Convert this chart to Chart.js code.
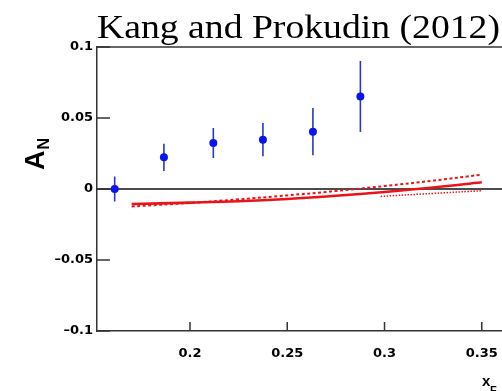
<!DOCTYPE html>
<html><head><meta charset="utf-8">
<script src="https://cdn.jsdelivr.net/npm/chart.js@4/dist/chart.umd.min.js"></script>
<style>html,body{margin:0;padding:0;background:#fff;overflow:hidden}</style>
</head><body>
<canvas id="c" width="502" height="391"></canvas>
<script>
// ---- data ----
const titleText = "Kang and Prokudin (2012)";
const yAxisMain = "A";
const yAxisSub = "N";
const xAxisMain = "x";
const xAxisSub = "F";
const xF = [0.1613, 0.1866, 0.2120, 0.2375, 0.2632, 0.2876];
const AN = [0.0000, 0.0223, 0.0324, 0.0347, 0.0404, 0.0652];
const ANerr = [0.0088, 0.0096, 0.0106, 0.0117, 0.0167, 0.0250];
const curveX = [0.170, 0.200, 0.225, 0.250, 0.275, 0.300, 0.325, 0.350];
const solidY = [-0.0106, -0.0096, -0.0086, -0.0070, -0.0048, -0.0021, 0.0010, 0.0047];
const dashedY = [-0.0123, -0.0098, -0.0073, -0.0045, -0.0014, 0.0021, 0.0059, 0.0101];
const dottedX = [0.298, 0.325, 0.350];
const dottedY = [-0.0052, -0.0031, -0.0012];
const xTicks = [0.2, 0.25, 0.3, 0.35];
const xTickLabels = ["0.2", "0.25", "0.3", "0.35"];
const yTicks = [-0.1, -0.05, 0, 0.05, 0.1];
const yTickLabels = ["\u20130.1", "\u20130.05", "0", "0.05", "0.1"];

const toXY = (xs, ys) => xs.map((x, i) => ({x: x, y: ys[i]}));

const AXIS = '#333333';
const tickFont = {family: 'DejaVu Sans', weight: 'bold', size: 13};

const decor = {
  id: 'decor',
  beforeDatasetsDraw(chart) {
    const {ctx, chartArea: a, scales: {x, y}} = chart;
    ctx.save();
    ctx.strokeStyle = '#111';
    ctx.lineWidth = 1.5;
    const y0 = y.getPixelForValue(0);
    ctx.beginPath(); ctx.moveTo(a.left, y0); ctx.lineTo(a.right, y0); ctx.stroke();
    ctx.strokeStyle = '#2a36c8';
    ctx.lineWidth = 1.6;
    xF.forEach((v, i) => {
      const px = x.getPixelForValue(v);
      ctx.beginPath();
      ctx.moveTo(px, y.getPixelForValue(AN[i] - ANerr[i]));
      ctx.lineTo(px, y.getPixelForValue(AN[i] + ANerr[i]));
      ctx.stroke();
    });
    ctx.restore();
  },
  afterDraw(chart) {
    const {ctx, chartArea: a, scales: {x, y}} = chart;
    ctx.save();
    ctx.strokeStyle = AXIS; ctx.lineWidth = 1.5;
    ctx.beginPath(); ctx.moveTo(a.left - 0.75, a.top); ctx.lineTo(a.right, a.top); ctx.stroke();
    yTicks.forEach(v => {
      const py = y.getPixelForValue(v);
      ctx.beginPath(); ctx.moveTo(a.left, py); ctx.lineTo(a.left + 13, py); ctx.stroke();
    });
    xTicks.forEach(v => {
      const px = x.getPixelForValue(v);
      ctx.beginPath(); ctx.moveTo(px, a.bottom); ctx.lineTo(px, a.bottom - 9); ctx.stroke();
    });
    ctx.fillStyle = '#000';
    ctx.font = '34px "Liberation Serif"';
    ctx.textBaseline = 'alphabetic';
    ctx.textAlign = 'left';
    const w = ctx.measureText(titleText).width;
    ctx.save();
    ctx.translate(a.left, 38);
    ctx.scale(403 / w, 1);
    ctx.fillText(titleText, 0, 0);
    ctx.restore();
    ctx.save();
    ctx.translate(44, 170);
    ctx.rotate(-Math.PI / 2);
    ctx.font = 'bold 27px "Liberation Sans"';
    ctx.fillText(yAxisMain, 0, 0);
    const wa = ctx.measureText(yAxisMain).width;
    ctx.font = 'bold 16px "Liberation Sans"';
    ctx.fillText(yAxisSub, wa + 1, 5);
    ctx.restore();
    ctx.font = 'bold 15px "Liberation Sans"';
    ctx.fillText(xAxisMain, 482, 386);
    ctx.font = 'bold 11px "Liberation Sans"';
    ctx.fillText(xAxisSub, 490, 394);
    ctx.restore();
  }
};

new Chart(document.getElementById('c'), {
  type: 'scatter',
  data: {
    datasets: [
      {
        label: 'data',
        data: toXY(xF, AN),
        pointRadius: 4,
        pointHoverRadius: 4,
        pointBackgroundColor: '#0a14f0',
        pointBorderColor: '#0a14f0',
        pointBorderWidth: 0,
        showLine: false
      },
      {
        label: 'solid',
        data: toXY(curveX, solidY),
        showLine: true, pointRadius: 0, tension: 0.4,
        borderColor: '#e8141a', borderWidth: 2.6
      },
      {
        label: 'dashed',
        data: toXY(curveX, dashedY),
        showLine: true, pointRadius: 0, tension: 0.4,
        borderColor: '#e8141a', borderWidth: 2, borderDash: [3, 2.5]
      },
      {
        label: 'dotted',
        data: toXY(dottedX, dottedY),
        showLine: true, pointRadius: 0, tension: 0.4,
        borderColor: '#e8141a', borderWidth: 1.5, borderDash: [1.5, 1.5]
      }
    ]
  },
  options: {
    responsive: false,
    animation: false,
    devicePixelRatio: 1,
    layout: {autoPadding: false, padding: {top: 47, left: 0, right: 0, bottom: 0}},
    plugins: {legend: {display: false}, tooltip: {enabled: false}, title: {display: false}},
    scales: {
      x: {
        type: 'linear', min: 0.1522, max: 0.3604,
        grid: {display: false, drawTicks: false},
        border: {display: true, color: AXIS, width: 1.5},
        afterBuildTicks: s => { s.ticks = xTicks.map(v => ({value: v})); },
        afterFit: s => { s.height = 60; s.paddingLeft = 0; s.paddingRight = 0; },
        ticks: {
          font: tickFont, color: '#000', padding: 15, maxRotation: 0,
          callback: (v, i) => xTickLabels[i]
        }
      },
      y: {
        type: 'linear', min: -0.1, max: 0.1,
        grid: {display: false, drawTicks: false},
        border: {display: true, color: AXIS, width: 1.5},
        afterBuildTicks: s => { s.ticks = yTicks.map(v => ({value: v})); },
        afterFit: s => { s.width = 97; s.paddingTop = 0; s.paddingBottom = 0; },
        ticks: {
          font: tickFont, color: '#000', padding: 4,
          callback: (v, i) => yTickLabels[i]
        }
      }
    }
  },
  plugins: [decor]
});
</script>
</body></html>
